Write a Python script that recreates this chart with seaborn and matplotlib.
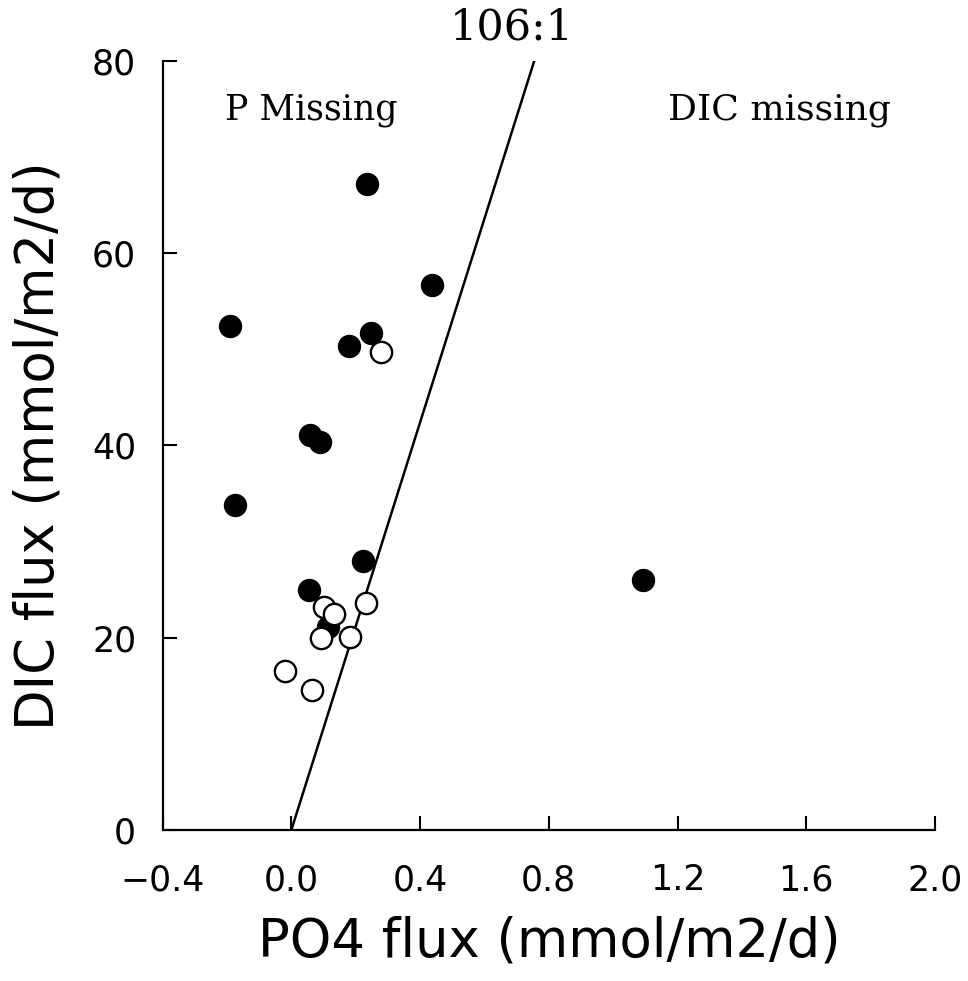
import numpy as np
import pandas as pd
import matplotlib
matplotlib.use("Agg")
import matplotlib.pyplot as plt
import seaborn as sns

# Filled circles
po4_filled = [0.234, 0.436, -0.192, 0.247, 0.178, 0.057, 0.088, -0.175, 0.222, 0.054, 0.113, 1.092]
dic_filled = [67.2, 56.7, 52.4, 51.7, 50.3, 41.1, 40.4, 33.8, 28.0, 25.0, 21.1, 26.0]

# Open circles
po4_open = [0.278, 0.231, 0.100, 0.132, 0.091, 0.183, -0.019, 0.063]
dic_open = [49.7, 23.6, 23.2, 22.5, 20.0, 20.1, 16.5, 14.6]

redfield_ratio = 106
x_ticks = [-0.4, 0.0, 0.4, 0.8, 1.2, 1.6, 2.0]
x_tick_labels = ["\u22120.4", "0.0", "0.4", "0.8", "1.2", "1.6", "2.0"]
y_ticks = [0, 20, 40, 60, 80]

sns.set_style("ticks")
plt.rcParams["font.family"] = ["DejaVu Sans"]
plt.rcParams["text.color"] = "black"
plt.rcParams["axes.labelcolor"] = "black"
plt.rcParams["xtick.color"] = "black"
plt.rcParams["ytick.color"] = "black"
serif = ["DejaVu Serif"]

df = pd.concat([
    pd.DataFrame({"po4": po4_filled, "dic": dic_filled, "kind": "filled"}),
    pd.DataFrame({"po4": po4_open, "dic": dic_open, "kind": "open"}),
], ignore_index=True)

fig = plt.figure(figsize=(9.68, 9.81), dpi=100)
ax = fig.add_axes([0.168, 0.154, 0.798, 0.784])

sns.scatterplot(data=df[df.kind == "filled"], x="po4", y="dic", ax=ax,
                s=235, color="black", edgecolor="black", linewidth=1.5, legend=False, zorder=3)
sns.scatterplot(data=df[df.kind == "open"], x="po4", y="dic", ax=ax,
                s=235, facecolor="white", edgecolor="black", linewidth=1.7, legend=False, zorder=3)

# 106:1 line
line_x = np.array([0.0, 80 / redfield_ratio])
sns.lineplot(x=line_x, y=redfield_ratio * line_x, ax=ax, color="black", linewidth=1.8, zorder=2)

ax.set_xlim(-0.4, 2.0)
ax.set_ylim(0, 80)
ax.set_xticks(x_ticks)
ax.set_yticks(y_ticks)
ax.set_xticklabels(x_tick_labels)
ax.tick_params(direction="in", length=10, width=1.5, labelsize=25)
ax.tick_params(axis="x", pad=24)
ax.tick_params(axis="y", pad=19)
for side in ["left", "bottom"]:
    ax.spines[side].set_linewidth(1.6)
    ax.spines[side].set_color("black")
sns.despine(ax=ax)

ax.set_xlabel("PO4 flux (mmol/m2/d)", fontsize=38, labelpad=13)
ax.set_ylabel("DIC flux (mmol/m2/d)", fontsize=38, labelpad=20)

ax.text(0.063, 74.9, "P Missing", fontsize=25, family=serif, ha="center", va="center")
ax.text(1.515, 74.9, "DIC missing", fontsize=26, family=serif, ha="center", va="center")
ax.text(0.685, 83.45, "106:1", fontsize=31, family=serif, ha="center", va="center", clip_on=False)

fig.savefig("out.png", dpi=100)
